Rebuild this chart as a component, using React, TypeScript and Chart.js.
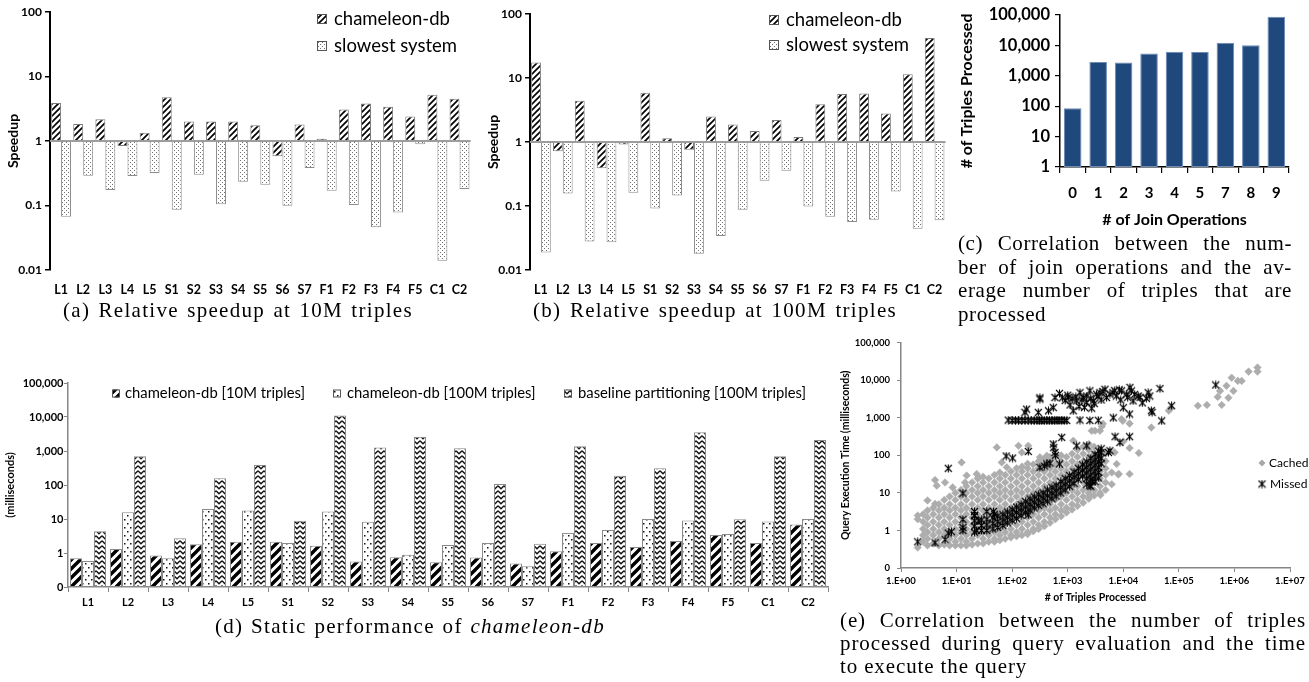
import React, { useEffect, useRef } from 'react';
import { Chart, registerables } from 'chart.js';

Chart.register(...registerables);

// ---------------- DATA ----------------
const queryLabels = ['L1', 'L2', 'L3', 'L4', 'L5', 'S1', 'S2', 'S3', 'S4', 'S5', 'S6', 'S7', 'F1', 'F2', 'F3', 'F4', 'F5', 'C1', 'C2'];

const speedupTickValues = [0.01, 0.1, 1, 10, 100];
const speedupTickLabels = ['0.01', '0.1', '1', '10', '100'];

// (a) 10M triples
const speedupCham10M = [3.9, 1.83, 2.18, 0.84, 1.34, 4.75, 2.0, 2.0, 2.0, 1.76, 0.58, 1.8, 1.08, 3.07, 3.8, 3.4, 2.4, 5.2, 4.5];
const speedupSlow10M = [0.067, 0.29, 0.174, 0.286, 0.32, 0.086, 0.3, 0.105, 0.234, 0.21, 0.099, 0.38, 0.17, 0.102, 0.046, 0.078, 0.89, 0.0139, 0.18];
// (b) 100M triples
const speedupCham100M = [17.5, 0.72, 4.4, 0.39, 0.91, 5.9, 1.14, 0.76, 2.5, 1.88, 1.48, 2.2, 1.2, 3.9, 5.6, 5.7, 2.8, 11.4, 42];
const speedupSlow100M = [0.0188, 0.157, 0.0279, 0.0272, 0.161, 0.091, 0.146, 0.018, 0.034, 0.087, 0.248, 0.354, 0.098, 0.068, 0.056, 0.061, 0.169, 0.044, 0.06];

// (c)
const joinOps = ['0', '1', '2', '3', '4', '5', '7', '8', '9'];
const avgTriples = [85, 2850, 2710, 5420, 6130, 5980, 12250, 10050, 86300];
const triplesTickValues = [1, 10, 100, 1000, 10000, 100000];
const triplesTickLabels = ['1', '10', '100', '1,000', '10,000', '100,000'];

// (d)
const timeCham10M = [0.7, 1.31, 0.84, 1.8, 2.15, 2.15, 1.64, 0.56, 0.75, 0.53, 0.74, 0.49, 1.12, 1.97, 1.5, 2.25, 3.4, 1.97, 6.9];
const timeCham100M = [0.58, 15.7, 0.7, 19.7, 17.9, 1.97, 16.5, 8.3, 0.89, 1.72, 1.97, 0.41, 3.9, 4.75, 10, 9.1, 3.6, 8.5, 10];
const timeBaseline100M = [4.35, 695, 2.7, 158, 388, 8.9, 11000, 1260, 2630, 1200, 107, 1.88, 1380, 187, 310, 3540, 9.8, 695, 2100];
const msTickValues = [0.1, 1, 10, 100, 1000, 10000, 100000];
const msTickLabels = ['0', '1', '10', '100', '1,000', '10,000', '100,000'];

// (e)
const processedTickValues = [1, 10, 100, 1000, 10000, 100000, 1000000, 10000000];
const processedTickLabels = ['1.E+00', '1.E+01', '1.E+02', '1.E+03', '1.E+04', '1.E+05', '1.E+06', '1.E+07'];

const cachedColumns: [number, number[]][] = [
  [2.5, [0.5, 0.75, 1.1, 1.7, 2.7]],
  [3, [0.4, 0.6, 0.9, 1.4, 2.2, 3.4]],
  [3.8, [0.45, 0.75, 1.1, 1.7, 2.7, 4]],
  [4.8, [0.4, 0.6, 0.9, 1.4, 2.2, 3.4, 5]],
  [6, [0.42, 0.75, 1.1, 1.7, 2.7, 4, 6.5]],
  [7.5, [0.4, 0.6, 0.9, 1.4, 2.2, 3.4, 5, 8]],
  [9.5, [0.4, 0.5, 0.75, 1.1, 1.7, 2.7, 4, 6.5, 10]],
  [12, [0.4, 0.6, 0.9, 1.4, 2.2, 3.4, 5, 8, 12]],
  [15, [0.4, 0.5, 0.75, 1.1, 1.7, 2.7, 4, 6.5, 10, 15]],
  [19, [0.42, 0.6, 0.9, 1.4, 2.2, 3.4, 5, 8, 12, 19]],
  [24, [0.45, 0.75, 1.1, 1.7, 2.7, 4, 6.5, 10, 15, 24]],
  [30, [0.45, 0.6, 0.9, 1.4, 2.2, 3.4, 5, 8, 12, 19, 27]],
  [38, [0.5, 0.75, 1.1, 1.7, 2.7, 4, 6.5, 10, 15, 24]],
  [48, [0.5, 0.6, 0.9, 1.4, 2.2, 3.4, 5, 8, 12, 19, 30]],
  [60, [0.55, 0.75, 1.1, 1.7, 2.7, 4, 6.5, 10, 15, 24, 35]],
  [75, [0.6, 0.9, 1.4, 2.2, 3.4, 5, 8, 12, 19, 30]],
  [95, [0.65, 0.75, 1.1, 1.7, 2.7, 4, 6.5, 10, 15, 24, 37]],
  [120, [0.7, 0.9, 1.4, 2.2, 3.4, 5, 8, 12, 19, 30, 45]],
  [150, [0.75, 1.1, 1.7, 2.7, 4, 6.5, 10, 15, 24, 37, 50]],
  [190, [0.8, 0.9, 1.4, 2.2, 3.4, 5, 8, 12, 19, 30, 45, 60]],
  [240, [0.95, 1.1, 1.7, 2.7, 4, 6.5, 10, 15, 24, 37, 57]],
  [300, [1.1, 1.4, 2.2, 3.4, 5, 8, 12, 19, 30, 45, 70]],
  [380, [1.3, 1.7, 2.7, 4, 6.5, 10, 15, 24, 37, 57, 80]],
  [480, [1.6, 2.2, 3.4, 5, 8, 12, 19, 30, 45, 70, 90]],
  [600, [2, 2.7, 4, 6.5, 10, 15, 24, 37, 57, 90]],
  [760, [2.4, 3.4, 5, 8, 12, 19, 30, 45, 70, 100]],
  [950, [3, 4, 6.5, 10, 15, 24, 37, 57, 90]],
  [1200, [3.6, 5, 8, 12, 19, 30, 45, 70, 110]],
  [1500, [4.5, 6.5, 10, 15, 24, 37, 57, 90, 140]],
  [1900, [5.5, 8, 12, 19, 30, 45, 70, 110, 170]],
  [2400, [7, 10, 15, 24, 37, 57, 90, 140, 200]],
  [3000, [8.5, 12, 19, 30, 45, 70, 110, 170]],
  [3800, [10, 15, 24, 37, 57, 90, 140]],
  [4800, [12, 19, 30, 45, 70, 110]],
];
const cachedOutliers: [number, number][] = [
  [2, 2.5], [2, 2.0], [2, 0.35], [3, 6.3], [4.1, 22], [4.4, 15.6], [4.1, 5.1], [6.2, 19], [8.5, 14], [12.3, 65],
  [14.2, 19], [15.2, 29], [23, 32], [25, 26], [53, 163], [65, 65], [80, 48], [130, 180], [149, 120], [195, 180],
  [316, 89], [420, 98], [1260, 245], [2500, 8.5], [2700, 450], [3100, 450], [3800, 450], [4100, 590], [4300, 690],
  [3900, 8.8], [6200, 17], [6200, 35], [7000, 120], [7600, 59], [8100, 31], [8300, 32], [9300, 920], [9800, 830],
  [10000, 235], [13000, 157], [13000, 32], [13000, 700], [19000, 115], [32000, 550], [66000, 1550], [71000, 1800],
  [220000, 2100], [320000, 2200], [500000, 3600], [550000, 5200], [590000, 2200], [720000, 7100], [780000, 3400],
  [890000, 11700], [960000, 5200], [1150000, 9600], [1350000, 9600], [1800000, 17000], [2600000, 21800], [2600000, 17000],
];

const missedBandColumns: [number, number[]][] = [
  [21, [0.9, 1.3, 1.8, 2.5, 3.2]],
  [28, [1.0, 1.35, 1.9]],
  [35, [1.0, 1.4, 2.0]],
  [45, [1.1, 1.55, 2.2]],
  [55, [1.2, 1.7, 2.4]],
  [68, [1.35, 1.9, 2.7]],
  [82, [1.6, 2.2, 3.1]],
  [100, [1.85, 2.6, 3.6]],
  [120, [2.1, 3.0, 4.2]],
  [145, [2.5, 3.5, 4.9]],
  [175, [3.0, 4.2, 5.9]],
  [210, [3.5, 4.9, 6.9]],
  [250, [4.0, 5.6, 7.8]],
  [300, [4.6, 6.4, 9.0]],
  [360, [5.2, 7.3, 10]],
  [430, [6.0, 8.4, 12]],
  [520, [7.0, 9.8, 14]],
  [620, [8.2, 11.5, 16]],
  [750, [10, 14, 20]],
  [900, [12, 17, 24]],
  [1080, [15, 21, 29]],
  [1300, [18, 26, 36]],
  [1550, [23, 32, 45]],
  [1850, [28, 40, 56]],
  [2200, [17, 24, 34, 48, 67]],
  [2600, [15, 22, 30, 43, 60, 84]],
  [3100, [20, 28, 38, 54, 75, 105]],
  [3600, [25, 35, 48, 68, 95, 130]],
  [4000, [60, 85, 120, 150]],
];
const missedPlateau: [number, number][] = [
  [85, 870], [100, 850], [115, 870], [130, 840], [150, 860], [170, 850], [195, 870], [220, 840], [250, 860],
  [280, 850], [310, 870], [340, 840], [380, 860], [420, 850], [470, 870], [520, 840], [580, 860], [640, 850],
  [700, 870], [780, 850], [870, 860], [960, 850], [1660, 870], [2500, 850], [3550, 860], [6600, 1000], [49000, 830],
];
const missedUpper: [number, number][] = [
  [170, 1400], [182, 1700], [295, 1390], [316, 3150], [316, 3400], [450, 1540], [550, 1870], [590, 3460], [710, 4470],
  [800, 3400], [900, 2900], [1000, 4000], [1020, 3460], [1100, 2200], [1200, 3300], [1260, 1540], [1400, 3600],
  [1450, 2820], [1600, 2000], [1660, 4680], [1800, 3000], [1900, 3460], [2000, 1900], [2190, 2570], [2200, 3800],
  [2510, 5250], [2600, 3300], [2700, 1800], [2880, 2820], [3000, 2400], [3300, 4270], [3500, 3700], [3800, 4680],
  [4000, 3000], [4300, 5000], [4680, 5750], [5000, 3460], [5750, 4270], [6500, 4700], [7000, 5300], [7500, 3800],
  [8500, 5500], [9000, 3000], [9330, 5250], [10000, 1860], [11500, 4270], [12000, 3500], [13000, 1260], [13200, 6460],
  [14000, 5200], [15000, 2820], [16000, 4200], [18600, 3800], [20000, 3500], [22000, 2500], [26000, 3300],
  [28000, 4680], [30000, 3800], [32000, 1550], [33000, 1400], [45700, 6000], [74000, 2100], [460000, 7500],
];
const missedOutliers: [number, number][] = [
  [2, 0.5], [4.1, 0.47], [6.2, 0.57], [7.1, 0.85], [8.1, 0.93], [7.1, 45], [13, 9.8], [13, 1.96], [13, 1.2], [13, 1.0],
  [23, 1.0], [21, 2.5], [25, 1.8], [35, 3.2], [46, 3.2], [48, 2.7], [78, 96], [102, 85], [195, 127], [195, 2.6],
  [316, 48], [380, 52], [420, 59], [480, 62], [550, 200], [560, 160], [590, 120], [600, 100], [710, 59], [780, 300],
  [1450, 180], [2200, 180], [2500, 15.6], [2800, 20], [5400, 120], [5750, 133], [7100, 315], [8700, 220], [13000, 315],
];

// ---------------- HELPERS ----------------
const FONT = 'Lato';

function makeTile(w: number, h: number, draw: (g: CanvasRenderingContext2D) => void): CanvasPattern {
  const c = document.createElement('canvas');
  c.width = w;
  c.height = h;
  const g = c.getContext('2d')!;
  g.fillStyle = '#fff';
  g.fillRect(0, 0, w, h);
  draw(g);
  return g.createPattern(c, 'repeat')!;
}

function diagTile(size: number, lw: number, color: string) {
  return makeTile(size, size, (g) => {
    g.strokeStyle = color;
    g.lineWidth = lw;
    g.beginPath();
    g.moveTo(-1, size + 1);
    g.lineTo(size + 1, -1);
    g.moveTo(-1, 1);
    g.lineTo(1, -1);
    g.moveTo(size - 1, size + 1);
    g.lineTo(size + 1, size - 1);
    g.stroke();
  });
}

function makePatterns() {
  return {
    hatchFine: diagTile(6, 1.7, '#000'),
    dotsFine: makeTile(4, 4, (g) => {
      g.fillStyle = '#707070';
      g.fillRect(0, 0, 1, 1);
      g.fillRect(2, 2, 1, 1);
    }),
    hatchBold: diagTile(9, 3.4, '#000'),
    dotsSparse: makeTile(6, 8, (g) => {
      g.fillStyle = '#111';
      g.fillRect(1, 1, 1.5, 1.5);
      g.fillRect(4, 5, 1.5, 1.5);
    }),
    zigzag: makeTile(6, 5, (g) => {
      g.strokeStyle = '#111';
      g.lineWidth = 1.4;
      g.beginPath();
      g.moveTo(0, 0.8);
      g.lineTo(3, 3.8);
      g.lineTo(6, 0.8);
      g.stroke();
    }),
  };
}

function makeMissedMarker(): HTMLCanvasElement {
  const c = document.createElement('canvas');
  c.width = 9;
  c.height = 9;
  const g = c.getContext('2d')!;
  g.strokeStyle = '#000';
  g.lineWidth = 1.1;
  g.beginPath();
  g.moveTo(1, 1);
  g.lineTo(8, 8);
  g.moveTo(8, 1);
  g.lineTo(1, 8);
  g.moveTo(4.5, 0.5);
  g.lineTo(4.5, 8.5);
  g.stroke();
  return c;
}

const fixedTicks = (values: number[]) => (scale: any) => {
  scale.ticks = values.map((value) => ({ value }));
};

const font = (size: number, bold = false) => ({ family: FONT, size, weight: bold ? 'bold' : 'normal' });

type LegendEntry = {
  fill?: any;
  marker?: 'diamond' | HTMLCanvasElement;
  bx: number;
  by: number;
  size: number;
  text: string;
  tx: number;
  ty: number;
  fontSize: number;
};

function legendPlugin(entries: LegendEntry[]) {
  return {
    id: 'customLegend',
    afterDraw(chart: any) {
      const ctx = chart.ctx;
      ctx.save();
      for (const e of entries) {
        if (e.fill) {
          ctx.fillStyle = e.fill;
          ctx.fillRect(e.bx, e.by, e.size, e.size);
          ctx.strokeStyle = '#555';
          ctx.lineWidth = 1;
          ctx.strokeRect(e.bx + 0.5, e.by + 0.5, e.size - 1, e.size - 1);
        } else if (e.marker === 'diamond') {
          ctx.fillStyle = '#a8a8a8';
          ctx.beginPath();
          ctx.moveTo(e.bx, e.by - e.size);
          ctx.lineTo(e.bx + e.size, e.by);
          ctx.lineTo(e.bx, e.by + e.size);
          ctx.lineTo(e.bx - e.size, e.by);
          ctx.closePath();
          ctx.fill();
        } else if (e.marker) {
          const m = e.marker as HTMLCanvasElement;
          ctx.drawImage(m, e.bx - m.width / 2, e.by - m.height / 2);
        }
        ctx.fillStyle = '#000';
        ctx.font = `${e.fontSize}px ${FONT}`;
        ctx.textBaseline = 'middle';
        ctx.textAlign = 'left';
        ctx.fillText(e.text, e.tx, e.ty);
      }
      ctx.restore();
    },
  };
}

const baselineAtOne = {
  id: 'baselineAtOne',
  afterDatasetsDraw(chart: any) {
    const { ctx, chartArea, scales } = chart;
    const y = scales.y.getPixelForValue(1);
    ctx.save();
    ctx.strokeStyle = '#9d9d9d';
    ctx.lineWidth = 2;
    ctx.beginPath();
    ctx.moveTo(chartArea.left, y);
    ctx.lineTo(chartArea.right, y);
    ctx.stroke();
    ctx.restore();
  },
};

// ---------------- CHART CONFIGS ----------------
function speedupConfig(cham: number[], slow: number[], topPad: number, rightPad: number, legendX: number, legendY: number[]) {
  const p = makePatterns();
  return {
    type: 'bar',
    data: {
      labels: queryLabels,
      datasets: [
        { label: 'chameleon-db', data: cham.map((v) => [1, v]), backgroundColor: p.hatchFine, borderColor: '#7a7a7a', borderWidth: 1, borderSkipped: false },
        { label: 'slowest system', data: slow.map((v) => [1, v]), backgroundColor: p.dotsFine, borderColor: '#8c8c8c', borderWidth: 1, borderSkipped: false },
      ],
    },
    options: {
      animation: false,
      responsive: false,
      layout: { padding: { top: topPad, right: rightPad, left: 0, bottom: 0 } },
      datasets: { bar: { categoryPercentage: 0.9, barPercentage: 1 } },
      plugins: { legend: { display: false }, tooltip: { enabled: false } },
      scales: {
        x: {
          grid: { display: false, drawTicks: false },
          border: { display: false },
          ticks: { font: font(12.5, true), color: '#000', padding: 12.5, autoSkip: false, maxRotation: 0 },
          afterFit: (s: any) => { s.height = 30; },
        },
        y: {
          type: 'logarithmic',
          min: 0.01,
          max: 100,
          afterBuildTicks: fixedTicks(speedupTickValues),
          afterFit: (s: any) => { s.width = 50; },
          grid: { display: true, drawOnChartArea: false, drawTicks: true, tickLength: 5, color: '#000', lineWidth: 1.5 },
          border: { color: '#000', width: 2 },
          ticks: { callback: (_v: any, i: number) => speedupTickLabels[i], font: font(12, true), color: '#000', padding: 3 },
          title: { display: true, text: 'Speedup', font: font(14, true), color: '#000', padding: { top: 4.6, bottom: 0 } },
        },
      },
    },
    plugins: [
      baselineAtOne,
      legendPlugin([
        { fill: p.hatchFine, bx: legendX, by: legendY[0] - 5, size: 10, text: 'chameleon-db', tx: legendX + 17, ty: legendY[0], fontSize: 18.5 },
        { fill: p.dotsFine, bx: legendX, by: legendY[1] - 5, size: 10, text: 'slowest system', tx: legendX + 17, ty: legendY[1], fontSize: 18.5 },
      ]),
    ],
  };
}

function joinConfig() {
  return {
    type: 'bar',
    data: {
      labels: joinOps,
      datasets: [
        { label: 'avg', data: avgTriples.map((v) => [1, v]), backgroundColor: '#1F497D', borderColor: '#6d8bb3', borderWidth: 1, borderSkipped: false, categoryPercentage: 1, barPercentage: 0.69 },
      ],
    },
    options: {
      animation: false,
      responsive: false,
      layout: { padding: { top: 11, right: 20, left: 0, bottom: 0 } },
      plugins: { legend: { display: false }, tooltip: { enabled: false } },
      scales: {
        x: {
          grid: { display: true, drawOnChartArea: false, drawTicks: true, tickLength: 6, color: '#000', lineWidth: 1.2 },
          border: { color: '#000', width: 1.5 },
          ticks: { font: font(15, true), color: '#000', padding: 11, autoSkip: false, maxRotation: 0 },
          title: { display: true, text: '# of Join Operations', font: font(16, true), color: '#000', padding: { top: 0, bottom: 6 } },
          afterFit: (s: any) => { s.height = 68; },
        },
        y: {
          type: 'logarithmic',
          min: 1,
          max: 100000,
          afterBuildTicks: fixedTicks(triplesTickValues),
          afterFit: (s: any) => { s.width = 115; },
          grid: { display: true, drawOnChartArea: false, drawTicks: true, tickLength: 5, color: '#000', lineWidth: 1.2 },
          border: { color: '#000', width: 1.5 },
          ticks: { callback: (_v: any, i: number) => triplesTickLabels[i], font: font(16.5, true), color: '#000', padding: 5 },
          title: { display: true, text: '# of Triples Processed', font: font(16, true), color: '#000', padding: { top: 12, bottom: 0 } },
        },
      },
    },
  };
}

function perfConfig() {
  const p = makePatterns();
  return {
    type: 'bar',
    data: {
      labels: queryLabels,
      datasets: [
        { label: 'chameleon-db [10M triples]', data: timeCham10M.map((v) => [0.1, v]), backgroundColor: p.hatchBold, borderColor: '#8a8a8a', borderWidth: 1, borderSkipped: false },
        { label: 'chameleon-db [100M triples]', data: timeCham100M.map((v) => [0.1, v]), backgroundColor: p.dotsSparse, borderColor: '#8a8a8a', borderWidth: 1, borderSkipped: false },
        { label: 'baseline partitioning [100M triples]', data: timeBaseline100M.map((v) => [0.1, v]), backgroundColor: p.zigzag, borderColor: '#8a8a8a', borderWidth: 1, borderSkipped: false },
      ],
    },
    options: {
      animation: false,
      responsive: false,
      layout: { padding: { top: 13, right: 4, left: 0, bottom: 0 } },
      datasets: { bar: { categoryPercentage: 0.9, barPercentage: 1 } },
      plugins: { legend: { display: false }, tooltip: { enabled: false } },
      scales: {
        x: {
          grid: { display: true, drawOnChartArea: false, drawTicks: true, tickLength: 5, color: '#868686', lineWidth: 1 },
          border: { color: '#868686', width: 1.5 },
          ticks: { font: font(11, true), color: '#000', padding: 3.4, autoSkip: false, maxRotation: 0 },
          afterFit: (s: any) => { s.height = 31; },
        },
        y: {
          type: 'logarithmic',
          min: 0.1,
          max: 100000,
          afterBuildTicks: fixedTicks(msTickValues),
          afterFit: (s: any) => { s.width = 68; },
          grid: { display: true, drawOnChartArea: false, drawTicks: true, tickLength: 4, color: '#868686', lineWidth: 1 },
          border: { color: '#868686', width: 1.5 },
          ticks: { callback: (_v: any, i: number) => msTickLabels[i], font: font(11, true), color: '#000', padding: 0.5 },
          title: { display: true, text: '(milliseconds)', font: font(11, true), color: '#000', padding: { top: 3.4, bottom: 0 } },
        },
      },
    },
    plugins: [
      legendPlugin([
        { fill: p.hatchBold, bx: 112, by: 19.5, size: 8, text: 'chameleon-db [10M triples]', tx: 125, ty: 23, fontSize: 14.8 },
        { fill: p.dotsSparse, bx: 333, by: 19.5, size: 8, text: 'chameleon-db [100M triples]', tx: 347, ty: 23, fontSize: 14.8 },
        { fill: p.zigzag, bx: 564, by: 19.5, size: 8, text: 'baseline partitioning [100M triples]', tx: 578, ty: 23, fontSize: 14.8 },
      ]),
    ],
  };
}

function scatterConfig() {
  const marker = makeMissedMarker();
  const cached = cachedColumns
    .flatMap(([x, ys]) => ys.map((y) => ({ x, y })))
    .concat(cachedOutliers.map(([x, y]) => ({ x, y })));
  const missed = missedBandColumns
    .flatMap(([x, ys]) => ys.map((y) => ({ x, y })))
    .concat([...missedPlateau, ...missedUpper, ...missedOutliers].map(([x, y]) => ({ x, y })));
  return {
    type: 'scatter',
    data: {
      datasets: [
        { label: 'Missed', data: missed, pointStyle: marker, pointRadius: 4, order: 0 },
        { label: 'Cached', data: cached, pointStyle: 'rectRot', pointRadius: 3.8, backgroundColor: '#adadad', borderColor: '#adadad', borderWidth: 0.5, order: 1 },
      ],
    },
    options: {
      animation: false,
      responsive: false,
      layout: { padding: { top: 12, right: 19, left: 0, bottom: 0 } },
      plugins: { legend: { display: false }, tooltip: { enabled: false } },
      scales: {
        x: {
          type: 'logarithmic',
          min: 1,
          max: 10000000,
          afterBuildTicks: fixedTicks(processedTickValues),
          afterFit: (s: any) => { s.height = 47; },
          grid: { display: true, drawOnChartArea: false, drawTicks: true, tickLength: 4, color: '#868686', lineWidth: 1 },
          border: { color: '#868686', width: 1.5 },
          ticks: { callback: (_v: any, i: number) => processedTickLabels[i], font: font(9.5, true), color: '#000', padding: 3.3, autoSkip: false, maxRotation: 0 },
          title: { display: true, text: '# of Triples Processed', font: font(10.5, true), color: '#000', padding: { top: 0, bottom: 11 } },
        },
        y: {
          type: 'logarithmic',
          min: 0.1,
          max: 100000,
          afterBuildTicks: fixedTicks(msTickValues),
          afterFit: (s: any) => { s.width = 71; },
          grid: { display: true, drawOnChartArea: false, drawTicks: true, tickLength: 4, color: '#868686', lineWidth: 1 },
          border: { color: '#868686', width: 1.5 },
          ticks: { callback: (_v: any, i: number) => msTickLabels[i], font: font(9.5, true), color: '#000', padding: 7 },
          title: { display: true, text: 'Query Execution Time (milliseconds)', font: font(10.5, true), color: '#000', padding: { top: 9.7, bottom: 0 } },
        },
      },
    },
    plugins: [
      legendPlugin([
        { marker: 'diamond', bx: 432, by: 133, size: 3.5, text: 'Cached', tx: 439, ty: 133, fontSize: 12 },
        { marker, bx: 432, by: 154, size: 4, text: 'Missed', tx: 440, ty: 154, fontSize: 12 },
      ]),
    ],
  };
}

// ---------------- COMPONENTS ----------------
function ChartBox({ left, top, width, height, build }: { left: number; top: number; width: number; height: number; build: () => any }) {
  const ref = useRef<HTMLCanvasElement>(null);
  useEffect(() => {
    const chart = new Chart(ref.current as HTMLCanvasElement, build());
    return () => chart.destroy();
  }, []);
  return (
    <canvas
      ref={ref}
      width={width}
      height={height}
      style={{ position: 'absolute', left, top, width, height, display: 'block' }}
    />
  );
}

type CapLine = { words: React.ReactNode[]; justify: boolean };

const splitWords = (s: string): React.ReactNode[] => s.split(' ');

function Caption({ left, top, width, lineHeight, spacing, lines }: { left: number; top: number; width: number; lineHeight: number; spacing: number; lines: CapLine[] }) {
  return (
    <div
      style={{
        position: 'absolute',
        left,
        top,
        width,
        fontFamily: '"Liberation Serif", "Times New Roman", serif',
        fontSize: 21,
        lineHeight: `${lineHeight}px`,
        letterSpacing: spacing,
        color: '#000',
        whiteSpace: 'nowrap',
      }}
    >
      {lines.map((l, i) => (
        <div
          key={i}
          style={{
            display: 'flex',
            justifyContent: l.justify ? 'space-between' : 'flex-start',
            gap: l.justify ? 0 : 6,
            height: lineHeight,
          }}
        >
          {l.words.map((w, j) => (
            <span key={j}>{w}</span>
          ))}
        </div>
      ))}
    </div>
  );
}

export default function App() {
  return (
    <div style={{ position: 'absolute', left: 0, top: 0, width: 1309, height: 682, background: '#fff', overflow: 'hidden' }}>
      <ChartBox left={0} top={0} width={480} height={300} build={() => speedupConfig(speedupCham10M, speedupSlow10M, 12, 8, 317, [19, 46])} />
      <ChartBox left={480} top={0} width={475} height={300} build={() => speedupConfig(speedupCham100M, speedupSlow100M, 14, 5, 289, [20, 45])} />
      <ChartBox left={945} top={0} width={364} height={235} build={joinConfig} />
      <ChartBox left={0} top={370} width={832} height={248} build={perfConfig} />
      <ChartBox left={830} top={330} width={479} height={285} build={scatterConfig} />

      <Caption left={63} top={298} width={350} lineHeight={24} spacing={1.3} lines={[{ words: splitWords('(a) Relative speedup at 10M triples'), justify: true }]} />
      <Caption left={533} top={298} width={364} lineHeight={24} spacing={1.3} lines={[{ words: splitWords('(b) Relative speedup at 100M triples'), justify: true }]} />
      <Caption
        left={958}
        top={232}
        width={334}
        lineHeight={23.7}
        spacing={0.6}
        lines={[
          { words: splitWords('(c) Correlation between the num-'), justify: true },
          { words: splitWords('ber of join operations and the av-'), justify: true },
          { words: splitWords('erage number of triples that are'), justify: true },
          { words: ['processed'], justify: false },
        ]}
      />
      <Caption
        left={215}
        top={614}
        width={390}
        lineHeight={24}
        spacing={1.3}
        lines={[{ words: [...splitWords('(d) Static performance of'), <i key="i">chameleon-db</i>], justify: true }]}
      />
      <Caption
        left={840}
        top={609}
        width={466}
        lineHeight={23}
        spacing={0.9}
        lines={[
          { words: splitWords('(e) Correlation between the number of triples'), justify: true },
          { words: splitWords('processed during query evaluation and the time'), justify: true },
          { words: splitWords('to execute the query'), justify: false },
        ]}
      />
    </div>
  );
}
